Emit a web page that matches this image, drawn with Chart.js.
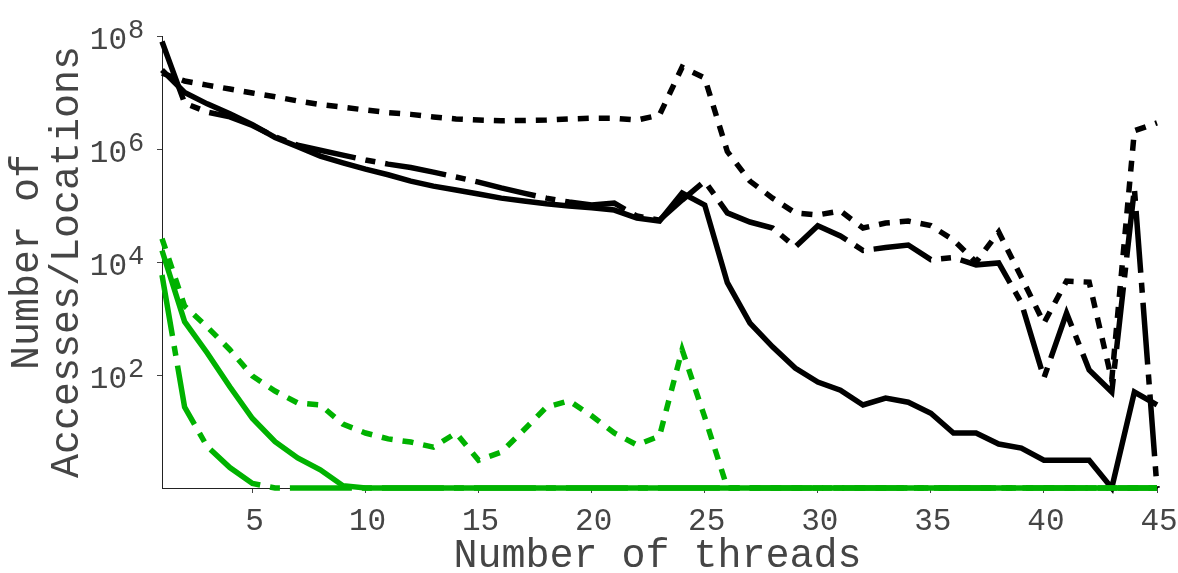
<!DOCTYPE html>
<html>
<head>
<meta charset="utf-8">
<script src="https://cdn.jsdelivr.net/npm/chart.js@4.4.1/dist/chart.umd.min.js"></script>
<style>
  html, body { margin: 0; padding: 0; background: #fff; }
  #wrap { width: 1178px; height: 573px; }
</style>
</head>
<body>
<div id="wrap"><canvas id="chart" width="1178" height="573"></canvas></div>
<script>
// Thread counts on the x axis
const threads = [1, 2, 3, 4, 5, 6, 7, 8, 9, 10, 11, 12, 13, 14, 15, 16, 17, 18, 19, 20,
  21, 22, 23, 24, 25, 26, 27, 28, 29, 30, 31, 32, 33, 34, 35, 36, 37, 38, 39, 40,
  41, 42, 43, 44, 45];

// Black series
const blackSolid = [2.5e7, 1.0e7, 6.3e6, 4.2e6, 2.7e6, 1.6e6, 1.1e6, 7.5e5, 5.7e5, 4.4e5,
  3.5e5, 2.7e5, 2.2e5, 1.88e5, 1.6e5, 1.35e5, 1.2e5, 1.07e5, 9.8e4, 9.1e4,
  8.3e4, 6.0e4, 5.3e4, 1.66e5, 1.02e5, 4.3e3, 830, 315, 133, 75,
  54, 29.5, 39, 33, 21, 9.4, 9.4, 6, 5.1, 3.1,
  3.1, 3.1, 1, 50, 29.5];

const blackDotted = [2.2e7, 1.6e7, 1.35e7, 1.15e7, 9.8e6, 8.4e6, 7.1e6, 6.1e6, 5.5e6, 4.9e6,
  4.4e6, 4.1e6, 3.7e6, 3.4e6, 3.25e6, 3.15e6, 3.2e6, 3.25e6, 3.4e6, 3.5e6,
  3.5e6, 3.25e6, 4.0e6, 2.8e7, 1.8e7, 9.0e5, 2.7e5, 1.35e5, 7.4e4, 6.8e4,
  8.0e4, 4.0e4, 4.9e4, 5.3e4, 4.4e4, 2.45e4, 1.0e4, 3.4e4, 5.4e3, 830,
  4.6e3, 4.4e3, 82, 2.1e6, 2.9e6];

const blackDashDot = [8e7, 6.5e6, 4.5e6, 3.7e6, 2.6e6, 1.65e6, 1.17e6, 9.5e5, 7.8e5, 6.4e5,
  5.4e5, 4.7e5, 3.9e5, 3.2e5, 2.6e5, 2.05e5, 1.66e5, 1.35e5, 1.15e5, 1.02e5,
  1.1e5, 6.5e4, 5.5e4, 1.25e5, 2.7e5, 7.4e4, 5.1e4, 4.0e4, 1.85e4, 4.4e4,
  2.9e4, 1.6e4, 1.8e4, 2.0e4, 1.1e4, 1.2e4, 8.9e3, 9.6e3, 1.9e3, 89,
  1.25e3, 123, 50, 2.0e5, 1];

// Green series
const greenSolid = [1.6e4, 880, 245, 62, 17, 6.6, 3.4, 2.1, 1.1, 1,
  1, 1, 1, 1, 1, 1, 1, 1, 1, 1,
  1, 1, 1, 1, 1, 1, 1, 1, 1, 1,
  1, 1, 1, 1, 1, 1, 1, 1, 1, 1,
  1, 1, 1, 1, 1];

const greenDotted = [2.6e4, 1.66e3, 710, 280, 96, 52, 32, 29.5, 13.5, 9.4,
  7.4, 6.5, 5.3, 9.4, 3.1, 4.3, 10.6, 27, 35, 19,
  9.4, 5.8, 8.3, 280, 18, 1, 1, 1, 1, 1,
  1, 1, 1, 1, 1, 1, 1, 1, 1, 1,
  1, 1, 1, 1, 1];

const greenDashDot = [5.9e3, 27, 5.4, 2.3, 1.2, 1, 1, 1, 1, 1,
  1, 1, 1, 1, 1, 1, 1, 1, 1, 1,
  1, 1, 1, 1, 1, 1, 1, 1, 1, 1,
  1, 1, 1, 1, 1, 1, 1, 1, 1, 1,
  1, 1, 1, 1, 1];

// Axis ticks and titles
const xTickValues = [5, 10, 15, 20, 25, 30, 35, 40, 45];
const yTickExponents = [2, 4, 6, 8];
const xAxisTitle = 'Number of threads';
const yAxisTitle = ['Number of', 'Accesses/Locations'];

const BLACK = '#000000';
const GREEN = '#00b200';
const DOTTED = [11, 10];
const DASH_DOT = [62, 10, 10, 10];
const FONT = '"Liberation Mono", "DejaVu Sans Mono", monospace';
const TEXT_COLOR = '#454545';

function series(label, values, color, dash) {
  return {
    label,
    data: threads.map((t, i) => ({ x: t, y: values[i] })),
    borderColor: color,
    backgroundColor: color,
    borderWidth: 5.5,
    borderDash: dash,
    borderCapStyle: 'butt',
    borderJoinStyle: 'miter',
    pointRadius: 0,
    pointHoverRadius: 0,
    tension: 0,
    fill: false,
    clip: false
  };
}

// Tick labels (with raised exponents) and axis titles
const axisText = {
  id: 'axisText',
  afterDraw(chart) {
    const { ctx, chartArea, scales: { x, y } } = chart;
    ctx.save();
    ctx.fillStyle = TEXT_COLOR;
    ctx.textBaseline = 'alphabetic';

    ctx.font = `31px ${FONT}`;
    ctx.textAlign = 'center';
    xTickValues.forEach(v => {
      ctx.fillText(String(v), x.getPixelForValue(v) + 2, chartArea.bottom + 42);
    });

    yTickExponents.forEach(e => {
      const py = y.getPixelForValue(Math.pow(10, e));
      ctx.font = `31px ${FONT}`;
      ctx.textAlign = 'right';
      ctx.fillText('10', chartArea.left - 35, py + 13);
      ctx.font = `27px ${FONT}`;
      ctx.textAlign = 'left';
      ctx.fillText(String(e), chartArea.left - 34, py + 1.5);
    });

    ctx.font = `40px ${FONT}`;
    ctx.textAlign = 'center';
    ctx.fillText(xAxisTitle, (chartArea.left + chartArea.right) / 2 - 2, chartArea.bottom + 79);

    const cy = (chartArea.top + chartArea.bottom) / 2;
    const baselines = [38, 78];
    yAxisTitle.forEach((line, i) => {
      ctx.save();
      ctx.translate(baselines[i], cy);
      ctx.rotate(-Math.PI / 2);
      ctx.fillText(line, 0, 0);
      ctx.restore();
    });
    ctx.restore();
  }
};

new Chart(document.getElementById('chart'), {
  type: 'line',
  data: {
    datasets: [
      series('green solid', greenSolid, GREEN, []),
      series('green dotted', greenDotted, GREEN, DOTTED),
      series('green dash-dot', greenDashDot, GREEN, DASH_DOT),
      series('black solid', blackSolid, BLACK, []),
      series('black dotted', blackDotted, BLACK, DOTTED),
      series('black dash-dot', blackDashDot, BLACK, DASH_DOT)
    ]
  },
  options: {
    responsive: false,
    devicePixelRatio: 1,
    animation: false,
    layout: { padding: { left: 157, right: 21, top: 36, bottom: 80 } },
    plugins: { legend: { display: false }, tooltip: { enabled: false } },
    scales: {
      x: {
        type: 'linear',
        min: 1,
        max: 45,
        afterBuildTicks: scale => { scale.ticks = xTickValues.map(v => ({ value: v })); },
        ticks: { display: false },
        grid: { display: true, drawOnChartArea: false, drawTicks: true, tickLength: 5, color: '#444', lineWidth: 1 },
        border: { display: true, color: '#222', width: 1 }
      },
      y: {
        type: 'logarithmic',
        min: 1,
        max: 1e8,
        afterBuildTicks: scale => { scale.ticks = yTickExponents.map(e => ({ value: Math.pow(10, e) })); },
        ticks: { display: false },
        grid: { display: true, drawOnChartArea: false, drawTicks: true, tickLength: 5, color: '#444', lineWidth: 1 },
        border: { display: true, color: '#222', width: 1 }
      }
    }
  },
  plugins: [axisText]
});
</script>
</body>
</html>
